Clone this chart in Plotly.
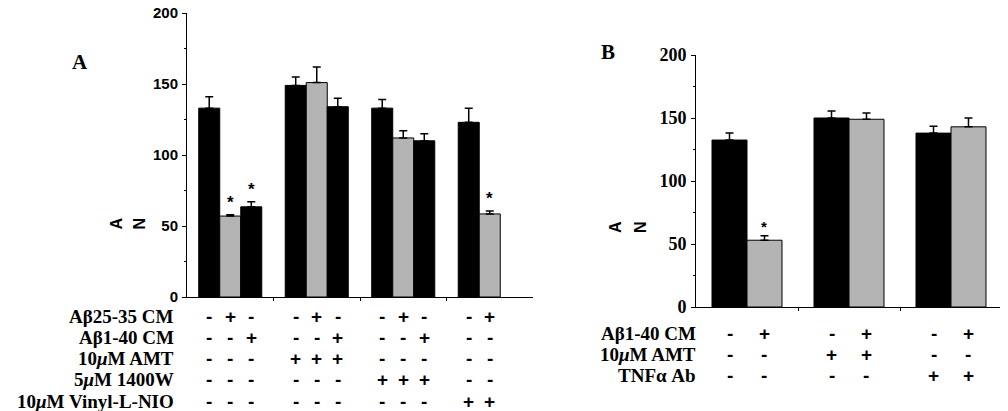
import plotly.graph_objects as go

# ---------------- data ----------------
groups_A = ["Control", "AMT", "1400W", "Vinyl-L-NIO"]
ctrl_A = [133, 149, 133, 123]
ctrl_A_err = [8, 6, 6, 10]
ab2535_A = [57, 151, 112, 58.5]
ab2535_A_err = [1, 11, 5, 2]
ab140_A = [63.5, 134, 110, None]
ab140_A_err = [3.5, 6, 5, 0]
sig_A = [(0, 1), (0, 2), (3, 1)]  # (group, bar) marked with *

rows_A = ["Aβ25-35 CM", "Aβ1-40 CM", "10<i>μ</i>M AMT", "5<i>μ</i>M 1400W", "10<i>μ</i>M Vinyl-L-NIO"]
signs_A = [
    ["-", "+", "-", "-", "+", "-", "-", "+", "-", "-", "+"],
    ["-", "-", "+", "-", "-", "+", "-", "-", "+", "-", "-"],
    ["-", "-", "-", "+", "+", "+", "-", "-", "-", "-", "-"],
    ["-", "-", "-", "-", "-", "-", "+", "+", "+", "-", "-"],
    ["-", "-", "-", "-", "-", "-", "-", "-", "-", "+", "+"],
]

groups_B = ["Control", "AMT", "TNFα Ab"]
ctrl_B = [132.5, 150, 138]
ctrl_B_err = [5.5, 5.5, 5.5]
ab140_B = [53, 149, 143]
ab140_B_err = [3.5, 5, 7]
sig_B = [(0, 1)]

rows_B = ["Aβ1-40 CM", "10<i>μ</i>M AMT", "TNFα Ab"]
signs_B = [
    ["-", "+", "-", "+", "-", "+"],
    ["-", "-", "+", "+", "-", "-"],
    ["-", "-", "-", "-", "+", "+"],
]

y_ticks = [0, 50, 100, 150, 200]

# ---------------- style ----------------
PAGE_OFF = 8          # default body margin of the page
W, H = 1000, 403
BLACK = "#000000"
GREY = "#b4b4b4"
SERIF = "Liberation Serif, Times New Roman, serif"
SANS = "Liberation Sans, Arial, sans-serif"

wA = 0.243
offA = [-1.5 * wA, -0.5 * wA, 0.5 * wA]
wB = 0.343
offB = [-wB, 0.0]

def px_x(p):
    return (p - PAGE_OFF) / W

def px_y(p):
    return 1 - (p - PAGE_OFF) / H

fig = go.Figure()

def add_bars(xref, yref, groups, series, offs, width):
    xs = list(range(len(groups)))
    for j, (vals, errs, col) in enumerate(series):
        fig.add_trace(go.Bar(
            x=xs, y=vals, width=width, offset=offs[j],
            marker=dict(color=col, line=dict(color=BLACK, width=1)),
            error_y=dict(type="data", symmetric=False, array=errs,
                         arrayminus=[0] * len(errs), color=BLACK,
                         thickness=1.5, width=4),
            xaxis=xref, yaxis=yref, showlegend=False,
            hovertext=groups,
        ))

series_A = [(ctrl_A, ctrl_A_err, BLACK), (ab2535_A, ab2535_A_err, GREY), (ab140_A, ab140_A_err, BLACK)]
series_B = [(ctrl_B, ctrl_B_err, BLACK), (ab140_B, ab140_B_err, GREY)]
add_bars("x", "y", groups_A, series_A, offA, wA)
add_bars("x2", "y2", groups_B, series_B, offB, wB)

ann = []
# significance stars
for g, j in sig_A:
    v, e, _ = series_A[j]
    ann.append(dict(x=g + offA[j] + wA / 2, y=v[g] + e[g], xref="x", yref="y",
                    text="*", showarrow=False, yanchor="bottom", yshift=1,
                    font=dict(family=SANS, size=17, color=BLACK, weight="bold")))
for g, j in sig_B:
    v, e, _ = series_B[j]
    ann.append(dict(x=g + offB[j] + wB / 2, y=v[g] + e[g], xref="x2", yref="y2",
                    text="*", showarrow=False, yanchor="bottom", yshift=-1,
                    font=dict(family=SANS, size=15, color=BLACK, weight="bold")))

# table below panel A
bar_pos_A = []
for g in range(len(groups_A)):
    for j, (vals, _, _) in enumerate(series_A):
        if vals[g] is not None:
            bar_pos_A.append(g + offA[j] + wA / 2)
for r, (lab, sg) in enumerate(zip(rows_A, signs_A)):
    yy = px_y(316 + r * 21.3)
    ann.append(dict(x=px_x(176), y=yy, xref="paper", yref="paper", text=lab,
                    showarrow=False, xanchor="right", yanchor="middle",
                    font=dict(family=SERIF, size=19, color=BLACK, weight="bold")))
    for xp, s in zip(bar_pos_A, sg):
        ann.append(dict(x=xp, y=yy, xref="x", yref="paper", text=s,
                        showarrow=False, xanchor="center", yanchor="middle",
                        font=dict(family=SANS, size=19, color=BLACK, weight="bold")))

# table below panel B
bar_pos_B = []
for g in range(len(groups_B)):
    for j in range(len(series_B)):
        bar_pos_B.append(g + offB[j] + wB / 2)
for r, (lab, sg) in enumerate(zip(rows_B, signs_B)):
    yy = px_y(333 + r * 21)
    ann.append(dict(x=px_x(698), y=yy, xref="paper", yref="paper", text=lab,
                    showarrow=False, xanchor="right", yanchor="middle",
                    font=dict(family=SERIF, size=19, color=BLACK, weight="bold")))
    for xp, s in zip(bar_pos_B, sg):
        ann.append(dict(x=xp, y=yy, xref="x2", yref="paper", text=s,
                        showarrow=False, xanchor="center", yanchor="middle",
                        font=dict(family=SANS, size=19, color=BLACK, weight="bold")))

# panel letters
ann.append(dict(x=px_x(70), y=px_y(48), xref="paper", yref="paper", text="A",
                showarrow=False, font=dict(family=SERIF, size=21, color=BLACK, weight="bold")))
ann.append(dict(x=px_x(608), y=px_y(38), xref="paper", yref="paper", text="B",
                showarrow=False, font=dict(family=SERIF, size=21, color=BLACK, weight="bold")))

# rotated y-axis labels ("A N")
for xp, yp, ch in [(106, 224, "A"), (129, 224, "N"), (615, 227, "A"), (640, 227, "N")]:
    ann.append(dict(x=px_x(xp), y=px_y(yp), xref="paper", yref="paper", text=ch,
                    showarrow=False, textangle=-90,
                    font=dict(family=SANS, size=16, color=BLACK, weight="bold")))

xax_common = dict(showline=True, linecolor=BLACK, linewidth=1, ticks="outside",
                  ticklen=3, tickcolor=BLACK, showticklabels=False, showgrid=False,
                  zeroline=False, fixedrange=True, automargin=False)
yax_common = dict(showline=True, linecolor=BLACK, linewidth=1, ticks="outside",
                  ticklen=4, tickcolor=BLACK, showgrid=False, zeroline=False,
                  range=[0, 200], tickvals=y_ticks, ticklabelstandoff=1, automargin=False,
                  ticklabeloverflow="allow",
                  minor=dict(ticks="outside", dtick=25, ticklen=2, tickcolor=BLACK))

fig.update_layout(
    template="none",
    width=W, height=H, autosize=False,
    margin=dict(l=0, r=0, t=0, b=0, pad=0, autoexpand=False),
    paper_bgcolor="white", plot_bgcolor="white",
    barmode="overlay", showlegend=False,
    xaxis=dict(domain=[px_x(187), px_x(533)], range=[-0.5, len(groups_A) - 0.5],
               tickvals=[0.5, 1.5, 2.5], anchor="y", **xax_common),
    yaxis=dict(domain=[px_y(297), px_y(13)], anchor="x",
               tickfont=dict(family=SANS, size=15, color=BLACK, weight="bold"), **yax_common),
    xaxis2=dict(domain=[px_x(696), px_x(1002)], range=[-0.5, len(groups_B) - 0.5],
                tickvals=[0.5, 1.5], anchor="y2", **xax_common),
    yaxis2=dict(domain=[px_y(307), px_y(55)], anchor="x2",
                tickfont=dict(family=SERIF, size=18, color=BLACK, weight="bold"), **yax_common),
    annotations=ann,
)

fig.write_html("out.html")
